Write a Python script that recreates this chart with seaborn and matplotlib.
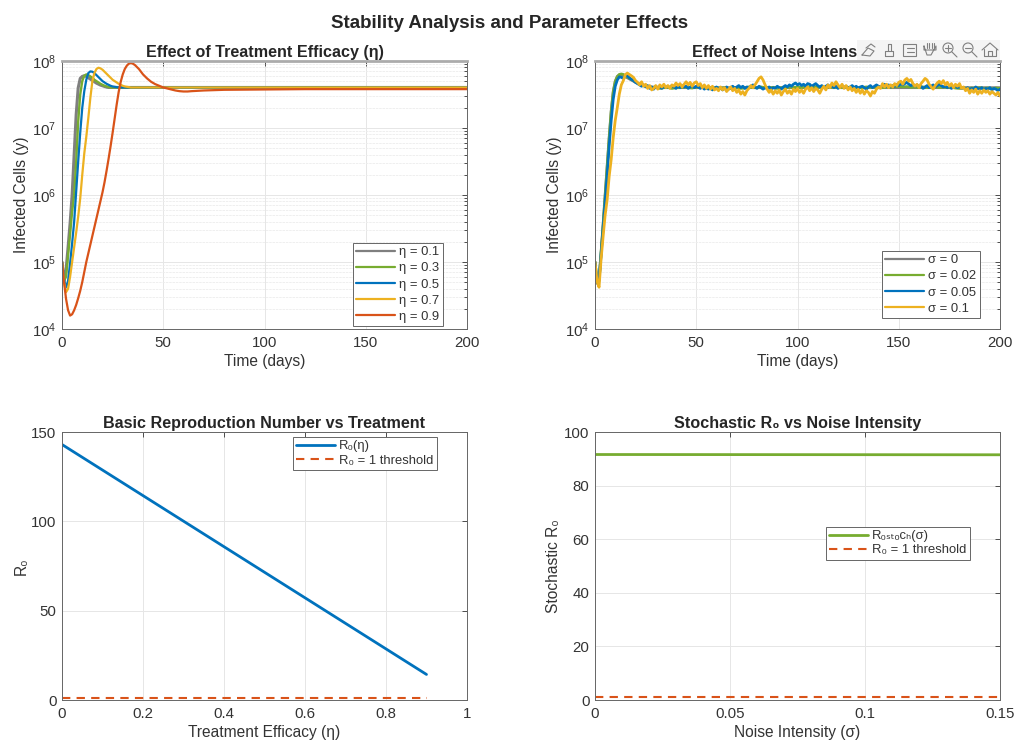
import matplotlib
matplotlib.use("Agg")
import matplotlib.pyplot as plt
import seaborn as sns
import numpy as np
from matplotlib.patches import Rectangle, Circle

# Infected cells vs treatment efficacy, log10(y) read day by day, last value is day 200
log_eta_01 = [5.0, 4.72, 4.88, 5.22, 5.58, 6.00, 6.60, 7.20, 7.60, 7.74, 7.77, 7.78, 7.77, 7.75, 7.73, 7.71,
              7.69, 7.67, 7.655, 7.64, 7.63, 7.62, 7.61, 7.605, 7.605]
log_eta_03 = [5.0, 4.72, 4.78, 5.10, 5.42, 5.75, 6.00, 6.50, 7.10, 7.50, 7.70, 7.78, 7.80, 7.79, 7.77, 7.75,
              7.72, 7.70, 7.68, 7.66, 7.645, 7.63, 7.62, 7.61, 7.605, 7.605]
log_eta_05 = [5.0, 4.74, 4.62, 4.72, 4.98, 5.28, 5.60, 6.05, 6.50, 6.93, 7.30, 7.55, 7.72, 7.82, 7.845, 7.84,
              7.82, 7.79, 7.76, 7.73, 7.70, 7.68, 7.66, 7.645, 7.63, 7.62, 7.615, 7.61, 7.605, 7.605]
log_eta_07 = [5.0, 4.70, 4.55, 4.60, 4.78, 5.00, 5.22, 5.44, 5.68, 5.95, 6.30, 6.62, 6.87, 7.15, 7.45, 7.70,
              7.82, 7.88, 7.90, 7.89, 7.87, 7.84, 7.81, 7.78, 7.75, 7.72, 7.70, 7.68, 7.66, 7.645, 7.63, 7.62,
              7.615, 7.61, 7.605, 7.605]
t_eta_09 = [0, 1, 2, 3, 4, 5, 6, 7, 8, 9, 10, 11, 12, 13, 14, 15, 16, 17, 18, 19, 20, 21, 22, 23, 24, 25, 26, 27,
            28, 29, 30, 31, 32, 33, 34, 35, 36, 37, 38, 39, 40, 42, 44, 46, 48, 50, 52, 54, 56, 58, 60, 62, 64,
            70, 80, 100, 120, 150, 200]
log_eta_09 = [5.0, 4.70, 4.45, 4.28, 4.20, 4.22, 4.28, 4.36, 4.46, 4.57, 4.70, 4.85, 5.00, 5.13, 5.26, 5.39, 5.52,
              5.65, 5.78, 5.91, 6.04, 6.19, 6.36, 6.54, 6.73, 6.93, 7.14, 7.35, 7.54, 7.69, 7.80, 7.88, 7.93, 7.96,
              7.97, 7.96, 7.94, 7.91, 7.88, 7.84, 7.80, 7.74, 7.69, 7.655, 7.63, 7.605, 7.59, 7.575, 7.56, 7.55,
              7.545, 7.545, 7.55, 7.56, 7.57, 7.575, 7.58, 7.58, 7.58]
eta_labels = ["η = 0.1", "η = 0.3", "η = 0.5", "η = 0.7", "η = 0.9"]

# Infected cells vs noise, in units of 1e7
t_noise = list(range(0, 16)) + list(range(16, 201, 2))
t_daily = list(range(0, 201))
y_sig_000 = [0.01, 0.0048, 0.0055, 0.0135, 0.036, 0.1, 0.27, 0.72, 1.8, 3.5, 5.0, 5.9, 6.2, 6.2, 6.0, 5.8,
             5.6, 5.2, 4.8, 4.5, 4.3, 4.2, 4.1, 4.05, 4.0, 4.0, 4.0, 4.0, 4.0, 4.0, 4.0, 4.0, 4.0, 4.0, 4.0, 4.0,
             4.0, 4.0, 4.0, 4.0, 4.0, 4.0, 4.0, 4.0, 4.0, 4.0, 4.0, 4.0, 4.0, 4.0, 4.0, 4.0, 4.0, 4.0, 4.0, 4.0,
             4.0, 4.0, 4.0, 4.0, 4.0, 4.0, 4.0, 4.0, 4.0, 4.0, 4.0, 4.0, 4.0, 4.0, 4.0, 4.0, 4.0, 4.0, 4.0, 4.0,
             4.0, 4.0, 4.0, 4.0, 4.0, 4.0, 4.0, 4.0, 4.0, 4.0, 4.0, 4.0, 4.0, 4.0, 4.0, 4.0, 4.0, 4.0, 4.0, 4.0,
             4.0, 4.0, 4.0, 4.0, 4.0, 4.0, 4.0, 4.0, 4.0, 4.0, 4.0, 4.0, 4.0]
y_sig_002 = [0.01, 0.005, 0.0054, 0.014, 0.035, 0.095, 0.26, 0.7, 1.75, 3.4, 4.9, 5.8, 6.3, 6.4, 6.3, 6.0,
             5.8, 5.3, 4.9, 4.5, 4.3, 4.2, 4.0, 4.1, 3.9, 4.0, 4.05, 3.9, 4.0,
             4.0, 4.1, 4.0, 3.95, 4.1, 4.0, 4.1, 4.0, 3.9, 4.0, 3.9, 4.0, 3.85, 3.95, 4.0, 3.9, 3.95, 4.1, 4.0, 4.0,
             4.1, 4.0, 3.95, 4.05, 3.9, 4.0, 3.95, 4.1, 4.0, 4.1, 4.0, 4.15, 4.1, 4.2, 4.05, 4.1, 4.0, 4.1, 4.0, 4.1,
             4.0, 4.1, 4.0, 4.05, 3.95, 4.0, 4.1, 4.0, 4.05, 4.15, 4.0, 4.1, 4.05, 4.15, 4.2, 4.1, 4.15, 4.05, 4.1, 4.0,
             4.1, 4.0, 4.05, 4.15, 4.0, 4.1, 4.0, 4.05, 3.95, 3.9, 4.0, 3.85, 3.95, 3.9, 4.0, 3.9, 3.95, 3.85, 3.95, 3.9]
y_sig_005 = [0.01, 0.0052, 0.0052, 0.013, 0.033, 0.085, 0.2, 0.55, 1.3, 2.7, 4.2, 5.2, 5.8, 5.7, 5.5, 6.1,
             6.0, 5.6, 5.3, 5.1, 4.8, 4.6, 4.4, 4.2, 4.4, 4.1,
             4.3, 3.9, 4.1, 3.8, 4.2, 4.0, 4.1, 3.9, 4.2, 4.0,
             4.2, 4.0, 4.3, 4.1, 3.9, 4.2, 4.0, 4.3, 4.1, 4.2,
             3.9, 4.1, 4.3, 4.0, 4.2, 4.1, 3.9, 4.1, 3.8, 4.0,
             3.8, 4.0, 3.7, 3.9, 4.1, 3.8, 4.0, 3.7, 3.9, 4.1,
             3.8, 4.0, 4.2, 3.9, 4.1, 4.3, 4.0, 4.2, 3.9, 4.1,
             4.0, 4.2, 4.4, 4.1, 3.9, 4.2, 4.0, 3.8, 4.0, 3.9,
             4.1, 3.8, 4.0, 3.9, 4.2, 4.0, 3.8, 4.1, 4.3, 4.1,
             4.4, 4.2, 4.5, 4.7, 4.4, 4.6, 4.3, 4.5, 4.2, 4.6,
             4.5, 4.2, 4.4, 4.6, 4.3, 4.1, 4.3, 4.0, 4.2, 4.4,
             4.1, 4.3, 4.0, 4.2, 3.9, 4.1, 4.3, 4.0, 4.2, 3.9,
             4.1, 4.3, 4.0, 4.2, 3.9, 4.1, 4.2, 4.0, 3.8, 4.1,
             4.3, 4.0, 4.2, 4.4, 4.2, 4.0, 4.3, 4.5, 4.2, 4.4,
             4.1, 4.3, 4.2, 4.5, 4.3, 4.6, 4.4, 4.6, 4.8, 4.5,
             4.3, 4.5, 4.2, 4.4, 4.1, 4.2, 3.9, 4.1, 4.3, 4.0,
             4.2, 4.4, 4.1, 4.3, 4.5, 4.3, 4.1, 4.2, 4.0, 4.2,
             3.9, 4.1, 4.3, 4.0, 4.2, 3.9, 4.0, 3.8, 4.0, 3.7,
             3.9, 3.8, 4.1, 3.9, 3.8, 4.0, 3.7, 3.9, 3.8, 4.0,
             3.7, 3.9, 3.8, 3.6, 3.8]
y_sig_010 = [0.01, 0.0052, 0.0042, 0.011, 0.024, 0.05, 0.085, 0.19, 0.34, 0.72, 1.3, 2.0, 3.2, 4.4, 5.1, 6.3,
             6.6, 6.3, 6.0, 5.7, 5.1, 4.8, 4.4, 4.9, 4.2, 4.5,
             3.9, 4.3, 3.7, 3.9, 4.3, 3.8, 4.4, 4.1, 4.5, 4.0,
             4.3, 3.9, 4.4, 4.2, 4.7, 4.3, 4.6, 4.1, 4.5, 4.9,
             4.4, 4.8, 4.2, 4.7, 4.9, 4.3, 4.6, 4.0, 4.4, 3.9,
             4.3, 3.8, 4.2, 3.7, 3.9, 3.6, 4.1, 3.7, 4.0, 3.5,
             3.8, 4.1, 3.6, 3.9, 3.4, 3.7, 3.2, 3.5, 3.1, 3.6,
             3.9, 4.3, 4.0, 4.4, 4.9, 5.5, 5.8, 5.2, 4.4, 3.8,
             3.4, 3.7, 3.2, 3.6, 3.3, 3.7, 3.1, 3.5, 3.8, 3.3,
             3.6, 3.2, 3.8, 3.5, 3.9, 3.4, 3.7, 3.3, 3.8, 4.1,
             3.6, 4.0, 3.5, 3.9, 3.7, 3.3, 3.8, 4.2, 3.7, 4.4,
             4.0, 4.7, 4.3, 4.9, 4.4, 4.0, 4.5, 3.9, 4.3, 3.7,
             4.1, 3.6, 3.9, 3.4, 3.8, 3.3, 3.7, 3.2, 3.6, 3.4,
             3.0, 3.5, 3.3, 3.8, 4.1, 3.9, 4.6, 4.1, 4.5, 4.0,
             4.4, 4.1, 4.6, 4.3, 4.8, 5.0, 4.5, 5.2, 5.5, 5.0,
             5.3, 4.6, 4.2, 4.5, 4.0, 4.6, 5.0, 5.5, 5.2, 4.5,
             4.1, 3.8, 4.3, 4.7, 5.0, 4.6, 5.1, 4.4, 4.8, 4.2,
             4.6, 4.0, 4.5, 4.2, 4.6, 3.9, 4.1, 3.6, 3.9, 3.3,
             3.7, 3.4, 3.8, 3.2, 3.6, 3.3, 3.7, 3.4, 3.6, 3.2,
             3.5, 3.3, 3.1, 3.4, 3.0]
sig_labels = ["σ = 0", "σ = 0.02", "σ = 0.05", "σ = 0.1"]

# Basic reproduction number
eta_ends = [0, 0.9]
r0_ends = [143, 14.3]
threshold_eta = [1, 1]
# Stochastic R0
sigma_ends = [0, 0.15]
r0s_ends = [91.6, 91.5]
threshold_sig = [1, 1]

GRAY = "#7f7f7f"
GREEN = "#77ac30"
BLUE = "#0072bd"
YELLOW = "#edb120"
ORANGE = "#d95319"
INK = "#333333"

W, H = 1016, 742


def px_axes(fig, l, t, r, b):
    return fig.add_axes([l / W, 1 - b / H, (r - l) / W, (b - t) / H])


def style_axes(ax, title, xlabel, ylabel):
    ax.set_title(title, fontsize=11.6, fontweight="bold", color="#262626", pad=3)
    ax.set_xlabel(xlabel, fontsize=11.2, color=INK, labelpad=3)
    ax.set_ylabel(ylabel, fontsize=11.2, color=INK, labelpad=2)
    ax.tick_params(which="both", direction="in", top=True, right=True, colors=INK, labelsize=10.8,
                   width=0.6, length=3.5)
    ax.tick_params(axis="x", which="major", pad=5)
    ax.tick_params(axis="y", which="major", pad=4)
    ax.tick_params(which="minor", length=2)
    ax.grid(True, which="major", color="#e6e6e6", lw=0.7)
    ax.set_axisbelow(True)
    for s in ax.spines.values():
        s.set_color("#666666")
        s.set_linewidth(0.7)


def log_axes(ax):
    ax.set_yscale("log")
    ax.set_ylim(1e4, 1e8)
    ax.set_xlim(0, 200)
    ax.set_xticks([0, 50, 100, 150, 200])
    ax.set_yticks([1e4, 1e5, 1e6, 1e7, 1e8])
    ax.yaxis.set_minor_locator(matplotlib.ticker.LogLocator(base=10, subs=np.arange(2, 10), numticks=10))
    ax.yaxis.set_minor_formatter(matplotlib.ticker.NullFormatter())
    ax.grid(True, which="minor", axis="y", color="#ededed", lw=0.6, ls=(0, (3, 1)))


def put_legend(ax, left, top, spacing=0.3):
    ax.legend(loc="upper left", bbox_to_anchor=(left / W, 1 - top / H), bbox_transform=ax.figure.transFigure,
              borderaxespad=0, fontsize=9.4, fancybox=False, framealpha=1, edgecolor="#666666", labelcolor=INK,
              handlelength=3.0, handletextpad=0.3, labelspacing=spacing, borderpad=0.25).get_frame().set_linewidth(0.7)


def main():
    sns.set_theme(style="white")
    plt.rcParams["font.family"] = ["Liberation Sans", "DejaVu Sans"]
    plt.rcParams["mathtext.default"] = "regular"
    plt.rcParams["mathtext.fontset"] = "custom"
    plt.rcParams["mathtext.rm"] = "Liberation Sans"

    fig = plt.figure(figsize=(W / 100, H / 100), dpi=100, facecolor="white")
    fig.suptitle("Stability Analysis and Parameter Effects", x=510 / W, y=1 - 23 / H, va="center",
                 fontsize=13.5, fontweight="bold", color="#262626")

    # top left, treatment efficacy
    ax1 = px_axes(fig, 62, 61, 467, 329)
    curves = [log_eta_01, log_eta_03, log_eta_05, log_eta_07]
    widths = [2.2, 1.7, 1.6, 1.6]
    for vals, col, lab, lw in zip(curves, [GRAY, GREEN, BLUE, YELLOW], eta_labels, widths):
        t = list(range(len(vals) - 1)) + [200]
        sns.lineplot(x=t, y=[10 ** v for v in vals], ax=ax1, color=col, lw=lw, label=lab, estimator=None, sort=False)
    sns.lineplot(x=t_eta_09, y=[10 ** v for v in log_eta_09], ax=ax1, color=ORANGE, lw=1.6, label=eta_labels[4],
                 estimator=None, sort=False)
    log_axes(ax1)
    style_axes(ax1, "Effect of Treatment Efficacy (η)", "Time (days)", "Infected Cells (y)")
    ax1.spines["top"].set_color("#ababab")
    ax1.spines["top"].set_linewidth(2)
    put_legend(ax1, 353, 243)
    for line in ax1.get_legend().get_lines():
        line.set_linewidth(1.6)

    # top right, noise intensity
    ax2 = px_axes(fig, 595, 61, 1000, 329)
    noise = [(t_noise, y_sig_000), (t_noise, y_sig_002), (t_daily, y_sig_005), (t_daily, y_sig_010)]
    for (t, vals), col, lab in zip(noise, [GRAY, GREEN, BLUE, YELLOW], sig_labels):
        sns.lineplot(x=t, y=[v * 1e7 for v in vals], ax=ax2, color=col, lw=2.0, label=lab, estimator=None,
                     sort=False)
    log_axes(ax2)
    style_axes(ax2, "Effect of Noise Intensity (σ)", "Time (days)", "Infected Cells (y)")
    ax2.spines["top"].set_color("#ababab")
    ax2.spines["top"].set_linewidth(2)
    put_legend(ax2, 882, 251)
    for line in ax2.get_legend().get_lines():
        line.set_linewidth(1.6)

    # bottom left, R0 vs treatment
    ax3 = px_axes(fig, 62, 432, 467, 700)
    sns.lineplot(x=eta_ends, y=r0_ends, ax=ax3, color=BLUE, lw=2.0, label="R₀(η)")
    sns.lineplot(x=eta_ends, y=threshold_eta, ax=ax3, color=ORANGE, lw=1.5, ls=(0, (4, 3)), label="R₀ = 1 threshold")
    ax3.set_xlim(0, 1)
    ax3.set_ylim(0, 150)
    ax3.set_xticks([0, 0.2, 0.4, 0.6, 0.8, 1])
    ax3.set_xticklabels(["0", "0.2", "0.4", "0.6", "0.8", "1"])
    ax3.set_yticks([0, 50, 100, 150])
    style_axes(ax3, "Basic Reproduction Number vs Treatment", "Treatment Efficacy (η)", "R₀")
    put_legend(ax3, 293, 437, spacing=0.15)

    # bottom right, stochastic R0
    ax4 = px_axes(fig, 595, 432, 1000, 700)
    sns.lineplot(x=sigma_ends, y=r0s_ends, ax=ax4, color=GREEN, lw=2.0, label="R₀ₛₜₒcₕ(σ)")
    sns.lineplot(x=sigma_ends, y=threshold_sig, ax=ax4, color=ORANGE, lw=1.5, ls=(0, (4, 3)), label="R₀ = 1 threshold")
    ax4.set_xlim(0, 0.15)
    ax4.set_ylim(0, 100)
    ax4.set_xticks([0, 0.05, 0.1, 0.15])
    ax4.set_xticklabels(["0", "0.05", "0.1", "0.15"])
    ax4.set_yticks([0, 20, 40, 60, 80, 100])
    style_axes(ax4, "Stochastic R₀ vs Noise Intensity", "Noise Intensity (σ)", "Stochastic R₀")
    put_legend(ax4, 826, 527, spacing=0.15)

    # the axes toolbar that covers the end of the top right title
    tb = px_axes(fig, 857, 40, 1000, 60)
    tb.set_facecolor("#f4f4f4")
    tb.set_xticks([])
    tb.set_yticks([])
    for s in tb.spines.values():
        s.set_visible(False)
    ic = dict(color="#808080", lw=0.8)
    tb.plot([862, 868, 874, 870, 862], [55, 48, 51, 56, 55], **ic)
    tb.plot([866, 871, 875], [48, 44, 47], **ic)
    tb.plot([885, 893, 893, 885, 885], [56, 56, 51, 51, 56], **ic)
    tb.plot([888, 888, 891, 891], [51, 44, 44, 51], **ic)
    tb.add_patch(Rectangle((903, 44), 13, 12, fill=False, ec="#808080", lw=0.8))
    tb.plot([907, 914], [48, 48], **ic)
    tb.plot([907, 914], [52, 52], **ic)
    tb.plot([924, 924, 936, 936, 931, 927, 924], [46, 50, 50, 46, 55, 55, 46], **ic)
    for cx in (926.5, 929, 931.5, 934):
        tb.plot([cx, cx], [43, 48], **ic)
    for cx, plus in ((948, True), (968, False)):
        tb.add_patch(Circle((cx, 48), 5, fill=False, ec="#808080", lw=0.8))
        tb.plot([cx + 4, cx + 9], [52, 57], **ic)
        tb.plot([cx - 3, cx + 3], [48, 48], **ic)
        if plus:
            tb.plot([cx, cx], [45, 51], **ic)
    tb.plot([982, 990, 998], [50, 43, 50], **ic)
    tb.plot([984, 984, 996, 996], [49, 56, 56, 49], **ic)
    tb.plot([988, 988, 992, 992], [56, 51, 51, 56], **ic)
    tb.set_xlim(857, 1000)
    tb.set_ylim(60, 40)

    fig.savefig("out.png", dpi=100)


if __name__ == "__main__":
    main()
